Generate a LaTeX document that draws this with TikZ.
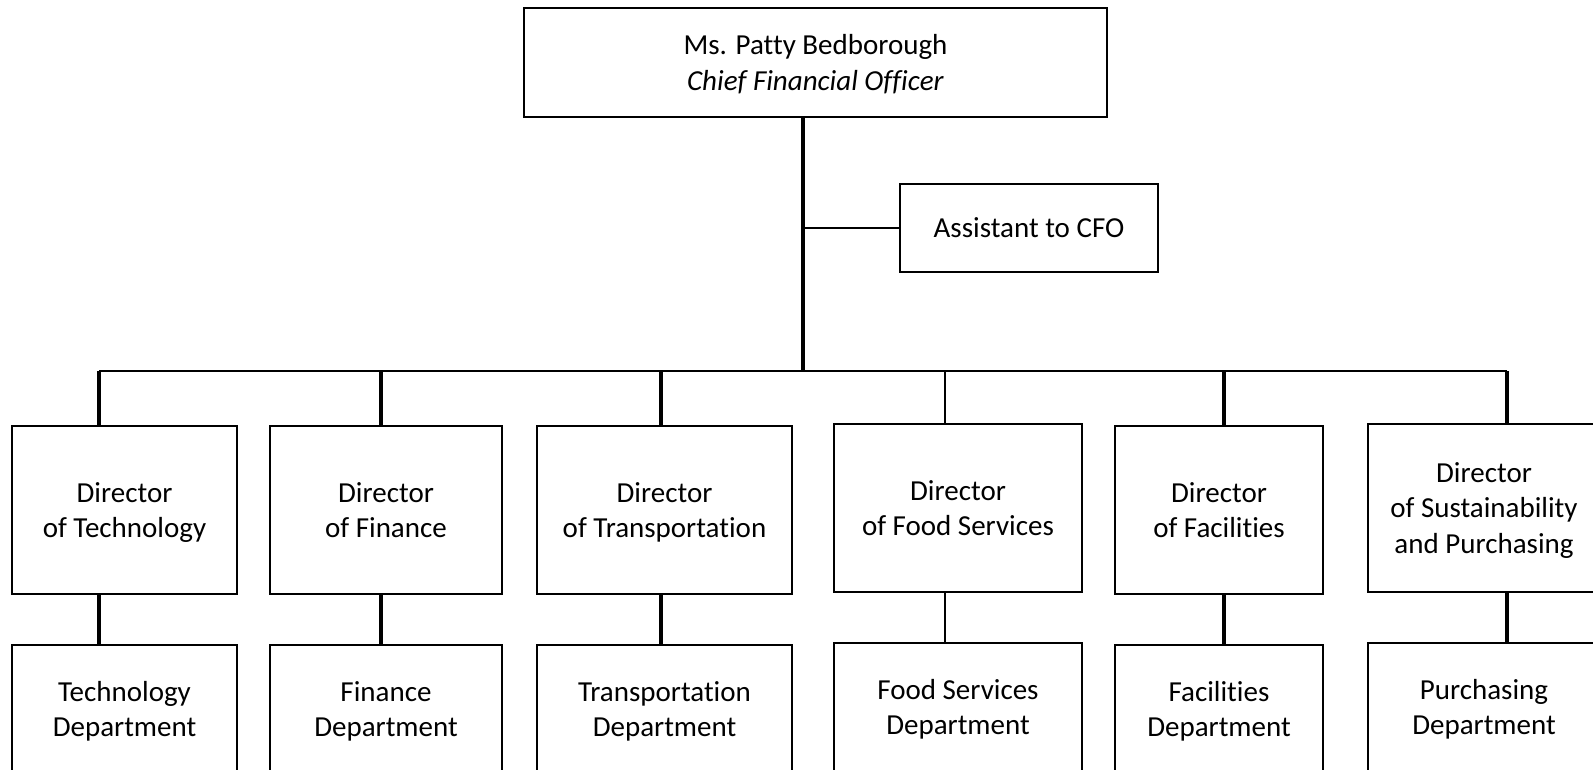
\documentclass[tikz,border=0pt]{standalone}
\usepackage{fontspec}
\setmainfont{Carlito}[RawFeature=-liga,RawFeature=-clig,RawFeature=-calt,RawFeature=-dlig]
\begin{document}
\begin{tikzpicture}[x=1pt,y=-1pt,
  box/.style={draw,line width=2pt,rectangle,inner sep=0pt,align=center,
    font=\fontsize{29}{35.5}\selectfont,text depth=0pt},
  thickline/.style={line width=3.2pt},
  thinline/.style={line width=2.3pt}]
\useasboundingbox (0,0) rectangle (1593,770);
\clip (0,0) rectangle (1593,770);
% top
\node[box,minimum width=583pt,minimum height=109pt] (cfo) at (815.5,62.5)
  {Ms. Patty Bedborough\\\textit{Chief Financial Officer}};
\node[box,minimum width=258pt,minimum height=88pt] (asst) at (1029,228)
  {Assistant to CFO};
% directors
\node[box,minimum width=225pt,minimum height=168pt] (d1) at (124.5,510) {Director\\of Technology};
\node[box,minimum width=232pt,minimum height=168pt] (d2) at (386,510) {Director\\of Finance};
\node[box,minimum width=255pt,minimum height=168pt] (d3) at (664.5,510) {Director\\of Transportation};
\node[box,minimum width=248pt,minimum height=168pt] (d4) at (958,508) {Director\\of Food Services};
\node[box,minimum width=208pt,minimum height=168pt] (d5) at (1219,510) {Director\\of Facilities};
\node[box,minimum width=232pt,minimum height=168pt] (d6) at (1484,508) {Director\\of Sustainability\\and Purchasing};
% departments
\node[box,minimum width=225pt,minimum height=128pt] (t1) at (124.5,709) {Technology\\Department};
\node[box,minimum width=232pt,minimum height=128pt] (t2) at (386,709) {Finance\\Department};
\node[box,minimum width=255pt,minimum height=128pt] (t3) at (664.5,709) {Transportation\\Department};
\node[box,minimum width=248pt,minimum height=128pt] (t4) at (958,707) {Food Services\\Department};
\node[box,minimum width=208pt,minimum height=128pt] (t5) at (1219,709) {Facilities\\Department};
\node[box,minimum width=232pt,minimum height=128pt] (t6) at (1484,707) {Purchasing\\Department};
% connector coordinates
\coordinate (j) at (803,371);
\coordinate (ab) at (803,228);
\coordinate (c1) at (99,371);
\coordinate (c2) at (381,371);
\coordinate (c3) at (661,371);
\coordinate (c4) at (945,371);
\coordinate (c5) at (1224,371);
\coordinate (c6) at (1507,371);
% trunk and branch
\draw[thickline] (cfo.south -| j) -- (j);
\draw[thinline] (ab) -- (asst.west);
\draw[thinline] (c1) -- (c6);
% directors
\draw[thickline] (c1) -- (d1.north -| c1);
\draw[thickline] (c2) -- (d2.north -| c2);
\draw[thickline] (c3) -- (d3.north -| c3);
\draw[thinline] (c4) -- (d4.north -| c4);
\draw[thickline] (c5) -- (d5.north -| c5);
\draw[thickline] (c6) -- (d6.north -| c6);
% departments
\draw[thickline] (d1.south -| c1) -- (t1.north -| c1);
\draw[thickline] (d2.south -| c2) -- (t2.north -| c2);
\draw[thickline] (d3.south -| c3) -- (t3.north -| c3);
\draw[thinline] (d4.south -| c4) -- (t4.north -| c4);
\draw[thickline] (d5.south -| c5) -- (t5.north -| c5);
\draw[thickline] (d6.south -| c6) -- (t6.north -| c6);
\end{tikzpicture}
\end{document}
